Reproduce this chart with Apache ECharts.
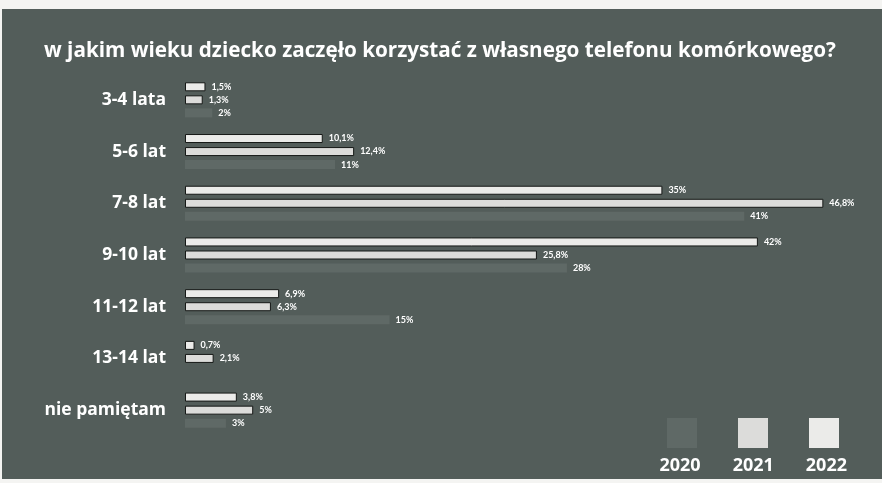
<!DOCTYPE html>
<html>
<head>
<meta charset="utf-8">
<script src="https://cdn.jsdelivr.net/npm/echarts@6/dist/echarts.min.js"></script>
<style>
  html, body { margin: 0; padding: 0; background: #f4f4f2; }
  #chart { position: absolute; left: 2px; top: 9px; width: 880px; height: 470px; }
</style>
</head>
<body>
<div id="chart"></div>
<script>
// wiek rozpoczęcia korzystania z telefonu
const categories = ['3-4 lata', '5-6 lat', '7-8 lat', '9-10 lat', '11-12 lat', '13-14 lat', 'nie pamiętam']
const years = ['2020', '2021', '2022']
const values2022 = [1.5, 10.1, 35, 42, 6.9, 0.7, 3.8]
const values2021 = [1.3, 12.4, 46.8, 25.8, 6.3, 2.1, 5]
const values2020 = [2, 11, 41, 28, 15, null, 3]

const colors = { '2020': '#5f6966', '2021': '#dcdcda', '2022': '#ebebe9' }
const font = '"Open Sans", sans-serif'

function pct(p) {
  return String(p.value).replace('.', ',') + '%'
}

function barSeries(name, data, border) {
  return {
    name: name,
    type: 'bar',
    data: data,
    barWidth: 9,
    barGap: '45%',
    itemStyle: {
      color: colors[name],
      borderColor: border ? '#151816' : colors[name],
      borderWidth: border ? 1 : 0
    },
    label: {
      show: true,
      position: 'right',
      distance: 6,
      color: '#ffffff',
      fontSize: 9,
      fontWeight: 'bold',
      fontFamily: 'Lato, sans-serif',
      formatter: pct
    }
  }
}

const chart = echarts.init(document.getElementById('chart'))
chart.setOption({
  backgroundColor: '#535d5a',
  animation: false,
  title: {
    text: 'w jakim wieku dziecko zaczęło korzystać z własnego telefonu komórkowego?',
    left: 37,
    top: 27,
    textStyle: { color: '#ffffff', fontSize: 20.7, fontWeight: 'bold', fontFamily: font }
  },
  legend: [
    {
      data: years,
      right: 38,
      top: 404,
      icon: 'rect',
      itemWidth: 30,
      itemHeight: 30,
      itemGap: 41,
      selectedMode: false,
      formatter: () => '',
      itemStyle: { borderWidth: 0 }
    },
    {
      data: years,
      right: 30,
      top: 443,
      itemWidth: 0,
      itemHeight: 0,
      itemGap: 26,
      selectedMode: false,
      textStyle: { color: '#ffffff', fontSize: 18, fontWeight: 'bold', fontFamily: font }
    }
  ],
  grid: { left: 183, right: 15, top: 65, bottom: 43 },
  xAxis: {
    type: 'value',
    min: 0,
    max: 50,
    show: false
  },
  yAxis: {
    type: 'category',
    data: categories,
    inverse: true,
    axisLine: { show: false },
    axisTick: { show: false },
    axisLabel: {
      color: '#ffffff',
      fontSize: 17.5,
      fontWeight: 'bold',
      fontFamily: font,
      margin: 19
    }
  },
  series: [
    barSeries('2022', values2022, true),
    barSeries('2021', values2021, true),
    barSeries('2020', values2020, false)
  ]
})
</script>
</body>
</html>
